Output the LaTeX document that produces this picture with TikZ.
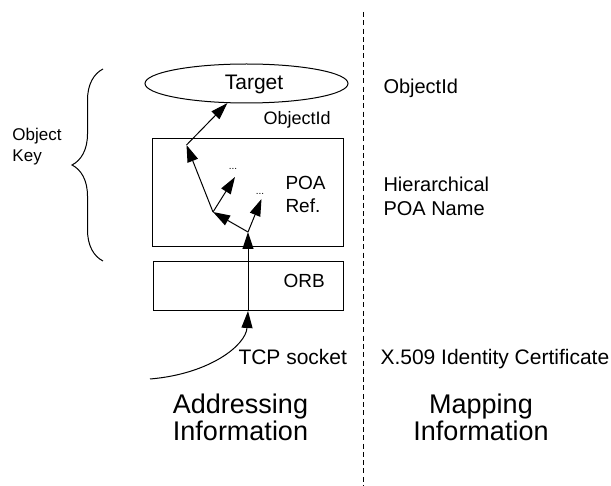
\documentclass[tikz,border=0pt]{standalone}
\usepackage{fontspec}
\setmainfont{Liberation Sans}
\usetikzlibrary{arrows.meta,decorations.pathreplacing,shapes.geometric}

\begin{document}
\begin{tikzpicture}[x=1pt,y=-1pt,
  line width=1pt,
  txt/.style={inner sep=0pt,anchor=base west,font=\fontsize{19}{23}\selectfont},
  bigtxt/.style={inner sep=0pt,anchor=base,align=center,font=\fontsize{27}{27}\selectfont},
  layer/.style={draw,inner sep=0pt},
  arr/.style={-{Triangle[length=17pt,width=11pt]}},
  dots/.style={inner sep=0pt,anchor=base,font=\fontsize{10}{10}\selectfont}]
\useasboundingbox (0,0) rectangle (611,486);

% divider between the two columns
\draw[line width=1pt,dash pattern=on 5pt off 3.3pt] (363,12) coordinate (dtop) -- (363,486) coordinate (dbot);

% ORB layers
\node[layer,draw,ellipse,minimum width=203pt,minimum height=39pt] (target) at (246.5,83.5) {};
\node[txt,anchor=base,font=\fontsize{21}{25}\selectfont] (targettxt) at (254,90) {Target};
\node[layer,minimum width=191pt,minimum height=108pt] (poa) at (247.5,193) {};
\node[layer,minimum width=190pt,minimum height=49pt] (orb) at (248,286.5) {};

\node[txt,font=\fontsize{18}{22}\selectfont] (oid) at (263,125) {ObjectId};
\node[txt] (poalbl) at (285,190) {POA};
\node[txt] (reflbl) at (285,213) {Ref.};
\node[txt] (orblbl) at (283,288) {ORB};
\node[txt,font=\fontsize{21}{25}\selectfont] (tcp) at (238,365) {TCP socket};

% POA hierarchy
\coordinate (j1) at (248,232);
\coordinate (j2) at (213,212);
\coordinate (j3) at (186.5,145);
\coordinate (d1) at (235,177);
\coordinate (d2) at (261.5,199);
\coordinate (orbin) at (248,311);
\coordinate (src) at (150,379);
\node[dots] (dots1) at (233,170) {...};
\node[dots] (dots2) at (260,195) {...};

\draw[arr] (src) .. controls (210,374) and (246,345) .. (orbin);
\draw[arr] (orbin) -- (j1);
\draw[arr] (j1) -- (j2);
\draw[arr] (j1) -- (d2);
\draw[arr] (j2) -- (d1);
\draw[arr] (j2) -- (j3);
\draw[arr] (j3) -- (target);

% object key brace
\coordinate (bbot) at (103,261);
\coordinate (btop) at (103,69);
\draw[decorate,decoration={brace,amplitude=31pt}] (bbot) -- (btop);
\node[txt,align=left,anchor=base west,font=\fontsize{17}{21}\selectfont] (okey) at (12,162) {Object\\Key};

% mapping column
\node[txt,font=\fontsize{20}{24}\selectfont] (mapoid) at (383,94) {ObjectId};
\node[txt,font=\fontsize{20}{24}\selectfont] (hier) at (383,192) {Hierarchical};
\node[txt,font=\fontsize{20}{24}\selectfont] (poaname) at (383,216) {POA Name};
\node[txt,font=\fontsize{21}{25}\selectfont] (x509) at (380,365) {X.509 Identity Certificate};

% column titles
\node[bigtxt] (addr) at (240.5,441) {Addressing\\Information};
\node[bigtxt] (mapi) at (481,441) {Mapping\\Information};
\end{tikzpicture}
\end{document}
